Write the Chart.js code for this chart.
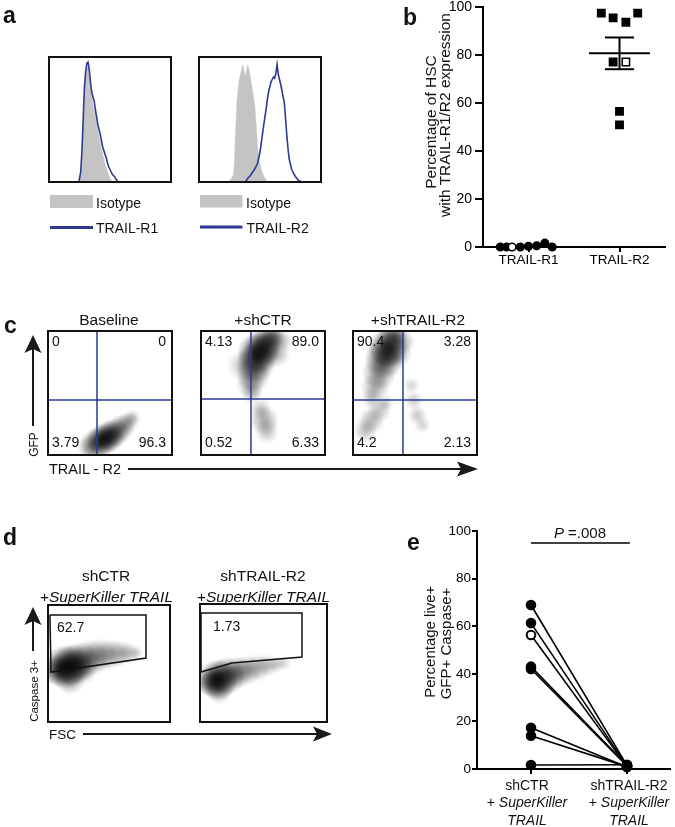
<!DOCTYPE html>
<html lang="en">
<head>
<meta charset="utf-8">
<title>TRAIL-R2 en HSC</title>
<script src="https://cdn.jsdelivr.net/npm/chart.js@4.4.1/dist/chart.umd.min.js"></script>
<style>
  html, body { margin: 0; padding: 0; background: #fff; }
  #page { position: relative; width: 675px; height: 827px; overflow: hidden; }
  #page canvas { position: absolute; }
  #over { position: absolute; left: 0; top: 0; pointer-events: none; }
  #over text { fill: #111; }
</style>
</head>
<body>
<div id="page">
<svg id="over" width="675" height="827" font-family="'Liberation Sans', Arial, sans-serif">
  <g font-weight="bold" font-size="23">
    <text x="3" y="23">a</text>
    <text x="403" y="25">b</text>
    <text x="4" y="333">c</text>
    <text x="3" y="545">d</text>
    <text x="407" y="550">e</text>
  </g>
  <!-- leyendas del panel a -->
  <g font-size="14">
    <rect x="50" y="195" width="43" height="13" fill="#c4c4c4"></rect>
    <text x="96" y="207.5">Isotype</text>
    <line x1="50" y1="227.5" x2="93" y2="227.5" stroke="#2d3a94" stroke-width="3"></line>
    <text x="96" y="232.5">TRAIL-R1</text>
    <rect x="200" y="195" width="42.5" height="12.5" fill="#c4c4c4"></rect>
    <text x="246" y="207.5">Isotype</text>
    <line x1="200" y1="227" x2="242.5" y2="227" stroke="#2d3a94" stroke-width="3"></line>
    <text x="246.5" y="232.5">TRAIL-R2</text>
  </g>
  <!-- titulo eje y, panel b -->
  <g font-size="15.5" text-anchor="middle">
    <text transform="translate(435.7,122) rotate(-90)">Percentage of HSC</text>
    <text transform="translate(450,115) rotate(-90)">with TRAIL-R1/R2 expression</text>
  </g>
  <!-- panel c -->
  <g font-size="15.5" text-anchor="middle">
    <text x="109" y="325">Baseline</text>
    <text x="263" y="325">+shCTR</text>
    <text x="418" y="325">+shTRAIL-R2</text>
  </g>
  <g fill="#1a1a1a" stroke="#1a1a1a" stroke-width="2">
    <line x1="33" y1="426" x2="33" y2="346"></line>
    <polygon stroke="none" points="33,335 41.5,353 33,349 24.5,353"></polygon>
    <line x1="128" y1="469" x2="466" y2="469"></line>
    <polygon stroke="none" points="478,469 457,461.5 461,469 457,476.5"></polygon>
  </g>
  <text transform="translate(37.5,444.5) rotate(-90)" font-size="12" text-anchor="middle">GFP</text>
  <text x="49" y="474" font-size="14.5">TRAIL - R2</text>
  <!-- panel d -->
  <g font-size="15.5" text-anchor="middle">
    <text x="106" y="581">shCTR</text>
    <text x="106.5" y="601.5">+<tspan font-style="italic">SuperKiller TRAIL</tspan></text>
    <text x="263" y="581">shTRAIL-R2</text>
    <text x="263.5" y="601.5">+<tspan font-style="italic">SuperKiller TRAIL</tspan></text>
  </g>
  <g fill="#1a1a1a" stroke="#1a1a1a" stroke-width="2">
    <line x1="33" y1="651" x2="33" y2="619"></line>
    <polygon stroke="none" points="33,607 41.5,625 33,621 24.5,625"></polygon>
    <line x1="83" y1="734" x2="320" y2="734"></line>
    <polygon stroke="none" points="332,734 313,726.5 317,734 313,741.5"></polygon>
  </g>
  <text transform="translate(37.5,691) rotate(-90)" font-size="11.5" text-anchor="middle">Caspase 3+</text>
  <text x="49" y="738.5" font-size="13.5">FSC</text>
  <!-- titulo eje y, panel e -->
  <g font-size="15" text-anchor="middle">
    <text transform="translate(435,641.7) rotate(-90)">Percentage live+</text>
    <text transform="translate(450.5,643.5) rotate(-90)">GFP+ Caspase+</text>
  </g>
</svg>
</div>
<script>
// Figura TRAIL-R1/R2 en HSC: histogramas (a), porcentajes (b), citometria (c, d)
// y pares shCTR / shTRAIL-R2 (e). Valores leidos a ojo de la figura original.

// ---- a: histogramas (canal 0-100, altura relativa) ----
var isoR1Canal = [24, 26, 27, 28, 29, 30, 31, 32, 33, 34, 35, 36, 38, 40, 42, 44, 46, 48, 50, 52];
var isoR1Cuenta = [0, 6, 22, 48, 72, 86, 92, 93, 88, 78, 68, 62, 52, 41, 31, 22, 14, 8, 3, 0];
var r1Canal = [24.5, 26, 27, 28, 29, 30, 31, 32, 33, 34, 35, 36, 37, 38, 39, 40, 41, 42, 43, 44, 45, 46, 47, 48, 49, 50, 51, 52, 53, 54, 55, 56, 57];
var r1Cuenta = [0, 8, 25, 50, 75, 88, 95, 96, 90, 80, 72, 68, 65, 58, 52, 46, 42, 38, 33, 28, 25, 22, 19, 15, 12, 10, 8, 6, 5, 4, 2, 1, 0];
var isoR2Canal = [24, 26, 27, 28, 29, 30, 31, 32, 33, 34, 35, 36, 37, 38, 39, 40, 41, 42, 43, 44, 45, 46, 47, 48, 49, 50, 52, 54, 56];
var isoR2Cuenta = [0, 2, 3.5, 5, 15, 40, 62, 75, 82, 86, 90, 94, 88, 85, 89, 94, 90, 84, 78, 72, 66, 58, 44, 28, 20, 14, 7, 3, 0];
var r2Canal = [0, 38, 40, 42, 44, 46, 48, 50, 52, 54, 55, 56, 57, 58, 59, 60, 61, 62, 63, 64, 65, 66, 67, 68, 69, 70, 71, 72, 73, 74, 76, 78, 80, 82, 84, 100];
var r2Cuenta = [0, 0, 3, 5, 8, 11, 15, 24, 38, 52, 58, 66, 72, 76, 80, 82, 84, 83, 87, 94, 86, 82, 78, 73, 68, 63, 50, 37, 26, 18, 10, 6, 3, 1, 0, 0];

// ---- b: % de HSC con expresion (posicion x = categoria + dispersion) ----
var bCategorias = ['TRAIL-R1', 'TRAIL-R2'];
var r1PosX = [0.69, 0.76, 0.82, 0.91, 1.0, 1.09, 1.18, 1.26];
var r1Pct = [0, 0, 0, 0, 0.3, 0.5, 1.6, 0];
var r1Abiertos = [2];
var r2PosX = [1.80, 1.93, 2.07, 2.20, 1.93, 2.07, 2.0, 2.0];
var r2Pct = [97.6, 95.6, 93.8, 97.6, 77.2, 77.2, 56.6, 51.0];
var r2Abiertos = [5];

// ---- c: cuadrantes (UL, UR, LL, LR) y corte [x, y] ----
var cBaseCuad = ['0', '0', '3.79', '96.3'];
var cCtrCuad = ['4.13', '89.0', '0.52', '6.33'];
var cR2Cuad = ['90.4', '3.28', '4.2', '2.13'];
var cBaseCorte = [39.5, 44.4];
var cCtrCorte = [40.3, 45.2];
var cR2Corte = [40.3, 44.4];

// manchas de densidad: [x, y, dispersion, intensidad]
var cBaseManchas = [
  [34, 6, 11, 0.3], [39, 9, 13, 0.5], [44, 12, 13, 0.75], [49, 15, 13, 0.75],
  [54, 18, 12, 0.5], [59, 22, 11, 0.4], [64, 26, 9, 0.3], [68, 30, 7, 0.22]
];
var cCtrManchas = [
  [46, 82, 17, 0.8], [50, 87, 15, 0.65], [44, 74, 16, 0.6], [54, 92, 12, 0.5], [58, 96, 10, 0.4],
  [42, 65, 14, 0.4], [40, 57, 12, 0.3], [41, 50, 9, 0.22], [34, 72, 13, 0.22], [60, 82, 12, 0.3],
  [64, 92, 10, 0.28], [48, 37, 9, 0.22], [51, 28, 12, 0.32], [53, 19, 10, 0.22]
];
var cR2Manchas = [
  [28, 86, 16, 0.8], [25, 77, 16, 0.65], [31, 94, 12, 0.55], [21, 66, 14, 0.4], [18, 55, 12, 0.3],
  [15, 46, 9, 0.22], [36, 82, 12, 0.3], [40, 91, 10, 0.28], [36, 97, 9, 0.28],
  [10, 20, 10, 0.24], [15, 28, 11, 0.27], [21, 36, 10, 0.22], [26, 42, 7, 0.18],
  [47, 56, 7, 0.15], [49, 44, 8, 0.18], [52, 32, 8, 0.2], [56, 24, 7, 0.16]
];

// ---- d: compuertas Caspase 3+ vs FSC ----
var dCtrCompuerta = [[1.6, 91.5], [80.3, 91.5], [80.3, 54.7], [2.5, 42.7], [1.6, 91.5]];
var dR2Compuerta = [[0.8, 92.4], [80.3, 92.4], [80.3, 55], [25.2, 50], [0.8, 42.4], [0.8, 92.4]];
var dCtrPct = '62.7';
var dR2Pct = '1.73';
var dCtrManchas = [
  [14, 47, 18, 0.8], [20, 49, 17, 0.75], [9, 44, 13, 0.55], [27, 52, 16, 0.5], [35, 55, 15, 0.4],
  [43, 57, 14, 0.32], [51, 58, 13, 0.28], [59, 59, 11, 0.25], [66, 59, 9, 0.22], [72, 59, 6, 0.18],
  [18, 37, 13, 0.38], [28, 44, 12, 0.3]
];
var dR2Manchas = [
  [14, 36, 16, 0.85], [9, 34, 12, 0.55], [21, 39, 15, 0.6], [29, 42, 13, 0.42], [37, 44, 12, 0.32],
  [45, 46, 11, 0.28], [53, 48, 9, 0.24], [60, 49, 7, 0.2], [66, 50, 6, 0.15], [15, 27, 11, 0.32]
];

// ---- e: % live GFP+ Caspase+ (pares) ----
var eGrupos = ['shCTR', 'shTRAIL-R2'];
var eShCtr = [68.9, 61.3, 56.3, 43.0, 42.0, 17.3, 14.0, 1.7];
var eShR2 = [1.5, 1.2, 1.0, 1.6, 1.3, 0.8, 1.0, 1.8];
var eAbiertos = [2];
var ePvalor = '=.008';

var FUENTE = "'Liberation Sans', Arial, sans-serif";
var AZUL = '#2d3a94';
var GRIS = '#c4c4c4';
Chart.defaults.font.family = FUENTE;
Chart.defaults.color = '#000';
Chart.defaults.animation = false;

function puntos(xs, ys) {
  return xs.map(function (x, i) { return { x: x, y: ys[i] }; });
}

function lienzo(id, left, top, w, h) {
  var c = document.createElement('canvas');
  c.id = id;
  c.width = w;
  c.height = h;
  c.style.left = left + 'px';
  c.style.top = top + 'px';
  document.getElementById('page').insertBefore(c, document.getElementById('over'));
  return c.getContext('2d');
}

// marco negro + textos en esquinas del area
function caja(textos) {
  return {
    id: 'caja',
    afterDraw: function (chart) {
      var a = chart.chartArea, ctx = chart.ctx;
      ctx.save();
      ctx.strokeStyle = '#111';
      ctx.lineWidth = 2;
      ctx.strokeRect(a.left, a.top, a.right - a.left, a.bottom - a.top);
      ctx.fillStyle = '#111';
      ctx.font = '14px ' + FUENTE;
      ctx.textBaseline = 'middle';
      (textos || []).forEach(function (t) {
        ctx.textAlign = t.der ? 'right' : 'left';
        var x = t.der ? a.right - t.dx : a.left + t.dx;
        var y = t.abajo ? a.bottom - t.dy : a.top + t.dy;
        ctx.fillText(t.t, x, y);
      });
      ctx.restore();
    }
  };
}

function opcionesSinEjes() {
  return {
    responsive: false,
    events: [],
    layout: { padding: 2, autoPadding: false },
    plugins: { legend: { display: false }, tooltip: { enabled: false } },
    scales: {
      x: { type: 'linear', min: 0, max: 100, display: false },
      y: { type: 'linear', min: 0, max: 100, display: false }
    }
  };
}

// ---------- a ----------
function histograma(id, left, top, isoX, isoY, recX, recY) {
  var ctx = lienzo(id, left, top, 126, 129);
  new Chart(ctx, {
    type: 'line',
    data: {
      datasets: [
        { data: puntos(recX, recY), borderColor: AZUL, borderWidth: 1.6, pointRadius: 0, fill: false, clip: 0 },
        { data: puntos(isoX, isoY), borderColor: GRIS, backgroundColor: GRIS, borderWidth: 0.5, pointRadius: 0, fill: 'origin', clip: 0 }
      ]
    },
    options: opcionesSinEjes(),
    plugins: [caja([])]
  });
}
histograma('hist-r1', 47, 55, isoR1Canal, isoR1Cuenta, r1Canal, r1Cuenta);
histograma('hist-r2', 197, 55, isoR2Canal, isoR2Cuenta, r2Canal, r2Cuenta);

// ---------- c y d: graficas de citometria ----------
// cada mancha se pinta como un punto cuyo estilo es un degradado radial suave
function degradado(r, a) {
  var n = Math.ceil(r) * 2 + 2;
  var cv = document.createElement('canvas');
  cv.width = n;
  cv.height = n;
  var g2 = cv.getContext('2d');
  var g = g2.createRadialGradient(n / 2, n / 2, 0, n / 2, n / 2, r);
  g.addColorStop(0, 'rgba(0,0,0,' + a + ')');
  g.addColorStop(0.25, 'rgba(0,0,0,' + (a * 0.9) + ')');
  g.addColorStop(0.5, 'rgba(0,0,0,' + (a * 0.6) + ')');
  g.addColorStop(0.75, 'rgba(0,0,0,' + (a * 0.28) + ')');
  g.addColorStop(1, 'rgba(0,0,0,0)');
  g2.fillStyle = g;
  g2.fillRect(0, 0, n, n);
  return cv;
}

function citometria(id, left, top, w, h, manchas, trazos, textos) {
  var ctx = lienzo(id, left, top, w, h);
  var escala = (w - 4) / 100;
  var datasets = trazos.map(function (t) {
    return {
      type: 'line',
      data: t.pts.map(function (p) { return { x: p[0], y: p[1] }; }),
      borderColor: t.color, borderWidth: t.ancho, pointRadius: 0, fill: false, clip: 0
    };
  });
  datasets.push({
    type: 'bubble',
    data: manchas.map(function (m) { return { x: m[0], y: m[1], r: m[2] * escala }; }),
    pointStyle: manchas.map(function (m) { return degradado(m[2] * escala, m[3]); }),
    backgroundColor: 'rgba(0,0,0,0)',
    borderWidth: 0,
    clip: 0
  });
  new Chart(ctx, { type: 'bubble', data: { datasets: datasets }, options: opcionesSinEjes(), plugins: [caja(textos)] });
}

function cuadrantes(vals) {
  return [
    { t: vals[0], dx: 4, dy: 11 },
    { t: vals[1], der: true, dx: 6, dy: 11 },
    { t: vals[2], abajo: true, dx: 4, dy: 12 },
    { t: vals[3], der: true, abajo: true, dx: 6, dy: 12 }
  ];
}
function lineasCorte(corte) {
  return [
    { pts: [[corte[0], 0], [corte[0], 100]], color: AZUL, ancho: 1.5 },
    { pts: [[0, corte[1]], [100, corte[1]]], color: AZUL, ancho: 1.5 }
  ];
}

citometria('c-base', 46, 329, 128, 128, cBaseManchas, lineasCorte(cBaseCorte), cuadrantes(cBaseCuad));
citometria('c-ctr', 199, 329, 128, 128, cCtrManchas, lineasCorte(cCtrCorte), cuadrantes(cCtrCuad));
citometria('c-r2', 351, 329, 128, 128, cR2Manchas, lineasCorte(cR2Corte), cuadrantes(cR2Cuad));

citometria('d-ctr', 46, 603, 126, 121, dCtrManchas,
  [{ pts: dCtrCompuerta, color: '#111', ancho: 1.5 }], [{ t: dCtrPct, dx: 9, dy: 23 }]);
citometria('d-r2', 198, 602, 131, 122, dR2Manchas,
  [{ pts: dR2Compuerta, color: '#111', ancho: 1.5 }], [{ t: dR2Pct, dx: 13, dy: 23 }]);

// ---------- ejes comunes para b y e ----------
function ejeY(ancho, largoMarca, sep, tam) {
  return {
    type: 'linear', min: 0, max: 100,
    ticks: { stepSize: 20, color: '#000', padding: sep, font: { size: tam } },
    grid: { drawOnChartArea: false, drawTicks: true, tickLength: largoMarca, color: '#000', lineWidth: 2 },
    border: { display: true, color: '#000', width: 2 },
    afterFit: function (s) { s.width = ancho; }
  };
}
function ejeX(min, max, alto, etiquetas, tam) {
  return {
    type: 'linear', min: min, max: max,
    afterBuildTicks: function (s) { s.ticks = [{ value: 1 }, { value: 2 }]; },
    ticks: {
      color: '#000', padding: 0, font: { size: tam }, autoSkip: false, maxRotation: 0,
      callback: function (v) { return etiquetas ? etiquetas[Math.round(v) - 1] : ''; }
    },
    grid: { drawOnChartArea: false, drawTicks: true, tickLength: 5, color: '#000', lineWidth: 2 },
    border: { display: true, color: '#000', width: 2 },
    afterFit: function (s) { s.height = alto; }
  };
}

// ---------- b ----------
function media(v) { return v.reduce(function (s, x) { return s + x; }, 0) / v.length; }
function errorEst(v) {
  var m = media(v);
  var sc = v.reduce(function (s, x) { return s + (x - m) * (x - m); }, 0);
  return Math.sqrt(sc / (v.length - 1)) / Math.sqrt(v.length);
}
var r2Media = media(r2Pct), r2Sem = errorEst(r2Pct);

function linea(pts, ancho) {
  return { type: 'line', data: pts, borderColor: '#000', borderWidth: ancho, pointRadius: 0, fill: false, clip: false };
}

new Chart(lienzo('b-pct', 390, -4, 285, 285), {
  type: 'scatter',
  data: {
    datasets: [
      {
        data: puntos(r1PosX, r1Pct), pointStyle: 'circle', pointRadius: 3.8,
        pointBackgroundColor: function (c) { return r1Abiertos.indexOf(c.dataIndex) >= 0 ? '#fff' : '#000'; },
        pointBorderColor: '#000', pointBorderWidth: 1.5, clip: false
      },
      {
        data: puntos(r2PosX, r2Pct), pointStyle: 'rect', pointRadius: 5.2,
        pointBackgroundColor: function (c) { return r2Abiertos.indexOf(c.dataIndex) >= 0 ? '#fff' : '#000'; },
        pointBorderColor: '#000', pointBorderWidth: 1.5, clip: false
      },
      linea([{ x: 2 - 0.335, y: r2Media }, { x: 2 + 0.335, y: r2Media }], 2),
      linea([{ x: 2, y: r2Media - r2Sem }, { x: 2, y: r2Media + r2Sem }], 2),
      linea([{ x: 2 - 0.16, y: r2Media + r2Sem }, { x: 2 + 0.16, y: r2Media + r2Sem }], 2),
      linea([{ x: 2 - 0.16, y: r2Media - r2Sem }, { x: 2 + 0.16, y: r2Media - r2Sem }], 2)
    ]
  },
  options: {
    responsive: false,
    events: [],
    layout: { padding: { top: 10, right: 10, bottom: 0, left: 0 }, autoPadding: false },
    plugins: { legend: { display: false }, tooltip: { enabled: false } },
    scales: {
      x: ejeX(0.5, 2.5, 34, bCategorias, 13.5),
      y: ejeY(93, 8, 3, 14)
    }
  }
});

// ---------- e ----------
function textoMixto(ctx, partes, cx, y, tam) {
  var anchos = partes.map(function (p) {
    ctx.font = (p[1] ? 'italic ' : '') + tam + 'px ' + FUENTE;
    return ctx.measureText(p[0]).width;
  });
  var x = cx - anchos.reduce(function (s, w) { return s + w; }, 0) / 2;
  partes.forEach(function (p, i) {
    ctx.font = (p[1] ? 'italic ' : '') + tam + 'px ' + FUENTE;
    ctx.fillText(p[0], x, y);
    x += anchos[i];
  });
}

var etiquetasE = {
  id: 'etiquetasE',
  afterDraw: function (chart) {
    var ctx = chart.ctx, xs = chart.scales.x, ys = chart.scales.y, fondo = chart.chartArea.bottom;
    var ajuste = [-4, 2];
    ctx.save();
    ctx.fillStyle = '#111';
    ctx.textAlign = 'left';
    ctx.textBaseline = 'alphabetic';
    eGrupos.forEach(function (g, i) {
      var cx = xs.getPixelForValue(i + 1) + ajuste[i];
      textoMixto(ctx, [[g, false]], cx, fondo + 21, 14);
      textoMixto(ctx, [['+ ', false], ['SuperKiller', true]], cx, fondo + 38, 14);
      textoMixto(ctx, [['TRAIL', true]], cx, fondo + 56, 14);
    });
    textoMixto(ctx, [['P', true], [' ' + ePvalor, false]], xs.getPixelForValue(1.51), ys.getPixelForValue(97), 15);
    ctx.restore();
  }
};

var eDatasets = [linea([{ x: 1, y: 95 }, { x: 2.03, y: 95 }], 1.5)];
eShCtr.forEach(function (v, i) {
  eDatasets.push({
    type: 'line',
    data: [{ x: 1, y: v }, { x: 2, y: eShR2[i] }],
    borderColor: '#000', borderWidth: 1.6, fill: false, clip: false,
    pointRadius: 4.3, pointBorderColor: '#000', pointBorderWidth: 2,
    pointBackgroundColor: function (c) {
      return (c.dataIndex === 0 && eAbiertos.indexOf(i) >= 0) ? '#fff' : '#000';
    }
  });
});

new Chart(lienzo('e-pares', 400, 519, 275, 308), {
  type: 'scatter',
  data: { datasets: eDatasets },
  options: {
    responsive: false,
    events: [],
    layout: { padding: { top: 12, right: 5, bottom: 0, left: 0 }, autoPadding: false },
    plugins: { legend: { display: false }, tooltip: { enabled: false } },
    scales: {
      x: ejeX(0.4375, 2.448, 58, null, 14),
      y: ejeY(77, 5, 1, 13.5)
    }
  },
  plugins: [etiquetasE]
});
</script>
</body>
</html>
